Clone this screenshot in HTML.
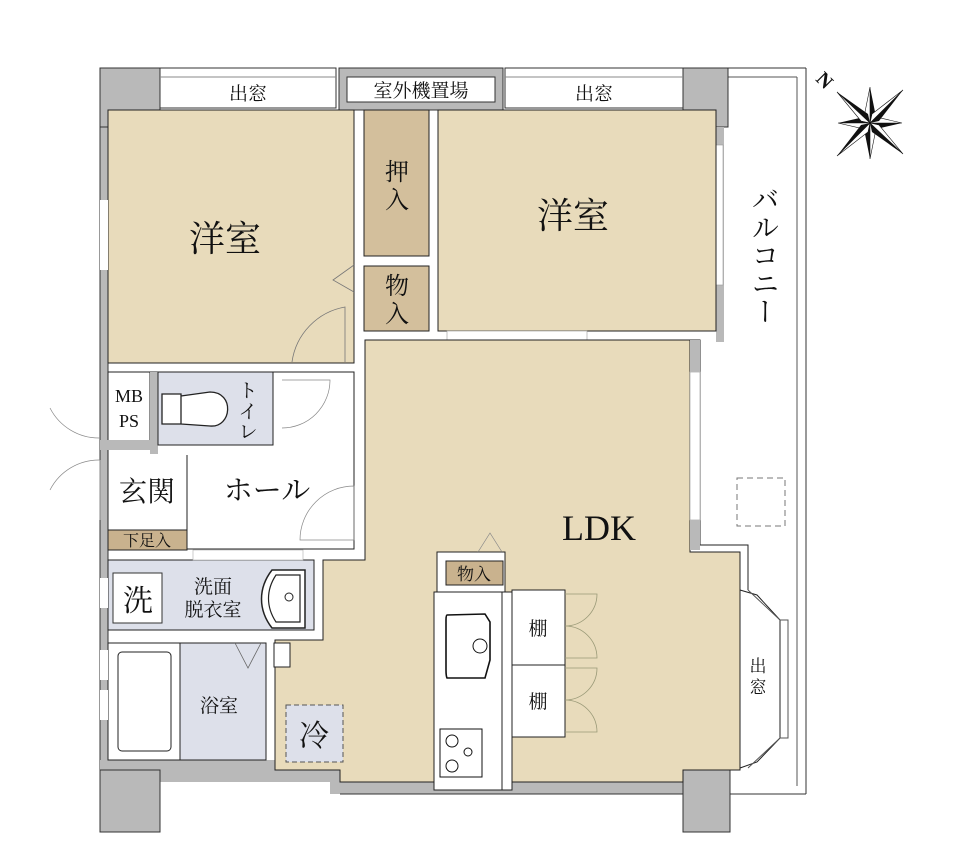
<!DOCTYPE html>
<html><head><meta charset="utf-8"><style>
html,body{margin:0;padding:0;background:#fff;width:980px;height:867px;overflow:hidden}
svg{display:block}
text{font-family:"Liberation Serif","Noto Serif CJK SC","Noto Sans CJK JP",serif;fill:#111}
</style></head><body>
<svg width="980" height="867" viewBox="0 0 980 867" xmlns="http://www.w3.org/2000/svg">
<rect x="100" y="68" width="8" height="764" fill="#b9b9b9" stroke="#333" stroke-width="1"/>
<rect x="100" y="760" width="240" height="22" fill="#b9b9b9"/>
<rect x="330" y="782" width="400" height="12" fill="#b9b9b9"/>
<line x1="340" y1="794" x2="806" y2="794" stroke="#333"/>
<line x1="806" y1="68" x2="806" y2="794" stroke="#333"/>
<line x1="797" y1="77" x2="797" y2="786" stroke="#555"/>
<line x1="728" y1="68" x2="806" y2="68" stroke="#333"/>
<line x1="728" y1="77" x2="797" y2="77" stroke="#555"/>
<rect x="100" y="68" width="60" height="59" fill="#b9b9b9" stroke="#333"/>
<rect x="683" y="68" width="45" height="59" fill="#b9b9b9" stroke="#333"/>
<rect x="100" y="770" width="60" height="62" fill="#b9b9b9" stroke="#333"/>
<rect x="683" y="770" width="47" height="62" fill="#b9b9b9" stroke="#333"/>
<rect x="160" y="68" width="176" height="40" fill="#fff" stroke="#333"/>
<line x1="160" y1="77" x2="336" y2="77" stroke="#888"/>
<text x="248" y="100" font-size="19" text-anchor="middle">出窓</text>
<rect x="339" y="68" width="164" height="42" fill="#b9b9b9" stroke="#333"/>
<rect x="347" y="77" width="148" height="25" fill="#fff" stroke="#333"/>
<text x="421" y="97" font-size="19" text-anchor="middle">室外機置場</text>
<rect x="505" y="68" width="178" height="40" fill="#fff" stroke="#333"/>
<line x1="505" y1="77" x2="683" y2="77" stroke="#888"/>
<text x="594" y="100" font-size="19" text-anchor="middle">出窓</text>
<rect x="716" y="127" width="8" height="215" fill="#b9b9b9"/>
<rect x="716" y="145" width="7" height="140" fill="#fff" stroke="#999" stroke-width="0.6"/>
<rect x="108" y="110" width="246" height="253" fill="#e8dbbb" stroke="#222"/>
<rect x="100" y="200" width="8" height="70" fill="#fff"/>
<text x="225" y="251" font-size="36" text-anchor="middle">洋室</text>
<path d="M354 265 L333 280 L354 292" fill="none" stroke="#777" stroke-width="0.8"/>
<path d="M292 362 A65 65 0 0 1 345 307 L345 362" fill="none" stroke="#777" stroke-width="0.8"/>
<rect x="364" y="110" width="65" height="146" fill="#d3bf9c" stroke="#222"/>
<text x="397" y="180" font-size="24" text-anchor="middle">押</text>
<text x="397" y="208" font-size="24" text-anchor="middle">入</text>
<rect x="364" y="266" width="65" height="65" fill="#d3bf9c" stroke="#222"/>
<text x="397" y="294" font-size="24" text-anchor="middle">物</text>
<text x="397" y="322" font-size="24" text-anchor="middle">入</text>
<rect x="438" y="110" width="278" height="221" fill="#e8dbbb" stroke="#222"/>
<text x="573" y="228" font-size="36" text-anchor="middle">洋室</text>
<rect x="447" y="331" width="140" height="10" fill="#fff" stroke="#999" stroke-width="0.6"/>
<text x="763" y="185" font-size="28" writing-mode="vertical-rl" style="writing-mode:vertical-rl">バルコニー</text>
<rect x="737" y="478" width="48" height="48" fill="none" stroke="#777" stroke-dasharray="6,4"/>
<path d="M365 340 L690 340 L690 552 L740 552 L740 770 L683 770 L683 782 L340 782 L340 770 L275 770 L275 640 L323 640 L323 560 L365 560 Z" fill="#e8dbbb" stroke="#222"/>
<path d="M690 340 L700 340 L700 545 L748 545 L748 590" fill="none" stroke="#222"/>
<rect x="690" y="372" width="10" height="148" fill="#fff" stroke="#999" stroke-width="0.6"/>
<rect x="690" y="340" width="10" height="32" fill="#b9b9b9"/>
<rect x="690" y="520" width="10" height="30" fill="#b9b9b9"/>
<text x="599" y="540" font-size="36" text-anchor="middle">LDK</text>
<path d="M740 590 L757 595 L780 620 L780 738 L757 762 L740 768 Z" fill="#fff" stroke="#222"/>
<path d="M748 590 L780 620 L788 620 L788 738 L780 738 L748 768" fill="none" stroke="#555"/>
<g font-size="17"><text x="758" y="672" text-anchor="middle">出</text><text x="758" y="693" text-anchor="middle">窓</text></g>
<rect x="108" y="372" width="246" height="177" fill="#fff" stroke="#222"/>
<rect x="108" y="372" width="42" height="72" fill="#fff" stroke="#222"/>
<rect x="150" y="372" width="8" height="82" fill="#b9b9b9"/>
<rect x="100" y="440" width="58" height="10" fill="#b9b9b9"/>
<text x="129" y="402" font-size="18" text-anchor="middle">MB</text>
<text x="129" y="427" font-size="18" text-anchor="middle">PS</text>
<rect x="158" y="372" width="115" height="73" fill="#dde0ea" stroke="#222"/>
<path d="M162 394 L181 394 L181 424 L162 424 Z M181 396 L210 392 C235 392 232 428 210 426 L181 424" fill="#fff" stroke="#222" stroke-width="1.3"/>
<g font-size="19"><text x="248" y="397" text-anchor="middle">ト</text><text x="248" y="418" text-anchor="middle">イ</text><text x="248" y="438" text-anchor="middle">レ</text></g>
<path d="M282 380 L330 380 A48 48 0 0 1 282 428" fill="none" stroke="#888" stroke-width="0.7"/>
<line x1="187" y1="455" x2="187" y2="550" stroke="#222"/>
<text x="147" y="501" font-size="28" text-anchor="middle">玄関</text>
<rect x="108" y="530" width="79" height="20" fill="#c9b28e" stroke="#222"/>
<text x="147" y="546" font-size="16" text-anchor="middle">下足入</text>
<text x="267" y="500" font-size="29" text-anchor="middle">ホール</text>
<path d="M300 540 A54 54 0 0 1 354 486 L354 540 Z" fill="none" stroke="#888" stroke-width="0.7"/>
<path d="M50 490 A55 55 0 0 1 100 460 M50 408 A55 55 0 0 0 100 438" fill="none" stroke="#888" stroke-width="0.7"/>
<line x1="100" y1="460" x2="100" y2="520" stroke="#888"/>
<rect x="108" y="560" width="206" height="70" fill="#dde0ea" stroke="#222"/>
<rect x="193" y="550" width="110" height="10" fill="#fff" stroke="#aaa" stroke-width="0.6"/>
<rect x="100" y="578" width="8" height="30" fill="#fff"/>
<rect x="113" y="573" width="49" height="50" fill="#fff" stroke="#333"/>
<text x="138" y="611" font-size="30" text-anchor="middle">洗</text>
<text x="213" y="593" font-size="19" text-anchor="middle">洗面</text>
<text x="213" y="616" font-size="19" text-anchor="middle">脱衣室</text>
<path d="M272 570 L305 570 L305 628 L272 628 C258 610 258 588 272 570 Z" fill="#fff" stroke="#222" stroke-width="1.5"/>
<path d="M276 575 L300 575 L300 622 L276 622 C266 607 266 590 276 575 Z" fill="none" stroke="#222" stroke-width="1.2"/>
<circle cx="289" cy="597" r="4" fill="#fff" stroke="#222"/>
<rect x="108" y="643" width="158" height="117" fill="#fff" stroke="#222"/>
<rect x="180" y="643" width="86" height="117" fill="#dde0ea" stroke="#222"/>
<rect x="118" y="652" width="53" height="99" rx="4" fill="#fff" stroke="#222"/>
<path d="M235 643 L248 668 L261 643" fill="none" stroke="#666" stroke-width="0.8"/>
<text x="219" y="712" font-size="19" text-anchor="middle">浴室</text>
<rect x="100" y="650" width="8" height="30" fill="#fff"/>
<rect x="100" y="690" width="8" height="30" fill="#fff"/>
<rect x="274" y="643" width="16" height="24" fill="#fff" stroke="#222"/>
<rect x="286" y="705" width="57" height="57" fill="#dde0ea" stroke="#555" stroke-dasharray="5,3"/>
<text x="314" y="746" font-size="30" text-anchor="middle">冷</text>
<rect x="437" y="552" width="68" height="40" fill="#fff" stroke="#222"/>
<rect x="446" y="561" width="57" height="24" fill="#c9b28e" stroke="#222"/>
<text x="474" y="580" font-size="17" text-anchor="middle">物入</text>
<path d="M478 552 L490 533 L502 552" fill="none" stroke="#888" stroke-width="0.7"/>
<rect x="434" y="592" width="78" height="198" fill="#fff" stroke="#222"/>
<line x1="502" y1="592" x2="502" y2="790" stroke="#222"/>
<path d="M447 615 L485 614 L490 622 L490 660 L485 678 L447 678 Q446 676 446 670 L446 620 Q446 615 447 615 Z" fill="#fff" stroke="#111" stroke-width="1.6"/>
<circle cx="480" cy="646" r="7" fill="#fff" stroke="#111"/>
<rect x="440" y="729" width="42" height="48" fill="#fff" stroke="#111"/>
<circle cx="452" cy="741" r="6" fill="none" stroke="#111"/><circle cx="452" cy="766" r="6" fill="none" stroke="#111"/><circle cx="468" cy="752" r="4" fill="none" stroke="#111"/>
<rect x="512" y="590" width="53" height="75" fill="#fff" stroke="#222"/>
<rect x="512" y="665" width="53" height="72" fill="#fff" stroke="#222"/>
<text x="538" y="635" font-size="19" text-anchor="middle">棚</text>
<text x="538" y="708" font-size="19" text-anchor="middle">棚</text>
<path d="M565 594 L597 594 A32 32 0 0 1 565 626 A32 32 0 0 1 597 658 L565 658 M565 668 L597 668 A32 32 0 0 1 565 700 A32 32 0 0 1 597 732 L565 732" fill="none" stroke="#997" stroke-width="0.8"/>
<g transform="translate(870,123)">
<polygon points="0,-36 6,-6 0,0" fill="#111"/><polygon points="0,-36 -6,-6 0,0" fill="#fff" stroke="#111" stroke-width="0.6"/>
<polygon points="0,36 -6,6 0,0" fill="#111"/><polygon points="0,36 6,6 0,0" fill="#fff" stroke="#111" stroke-width="0.6"/>
<polygon points="-32,0 -6,-6 0,0" fill="#111"/><polygon points="-32,0 -6,6 0,0" fill="#fff" stroke="#111" stroke-width="0.6"/>
<polygon points="32,0 6,6 0,0" fill="#111"/><polygon points="32,0 6,-6 0,0" fill="#fff" stroke="#111" stroke-width="0.6"/>
<polygon points="-33,-31 -2,-9 0,0" fill="#111"/><polygon points="-33,-31 -9,-2 0,0" fill="#fff" stroke="#111" stroke-width="0.6"/>
<polygon points="33,31 2,9 0,0" fill="#111"/><polygon points="33,31 9,2 0,0" fill="#fff" stroke="#111" stroke-width="0.6"/>
<polygon points="33,-33 9,-2 0,0" fill="#111"/><polygon points="33,-33 2,-9 0,0" fill="#fff" stroke="#111" stroke-width="0.6"/>
<polygon points="-33,33 -9,2 0,0" fill="#111"/><polygon points="-33,33 -2,9 0,0" fill="#fff" stroke="#111" stroke-width="0.6"/>
</g>
<text x="825" y="87" font-size="20" transform="rotate(45 825 80)" text-anchor="middle" font-weight="bold">N</text>
</svg>
</body></html>
